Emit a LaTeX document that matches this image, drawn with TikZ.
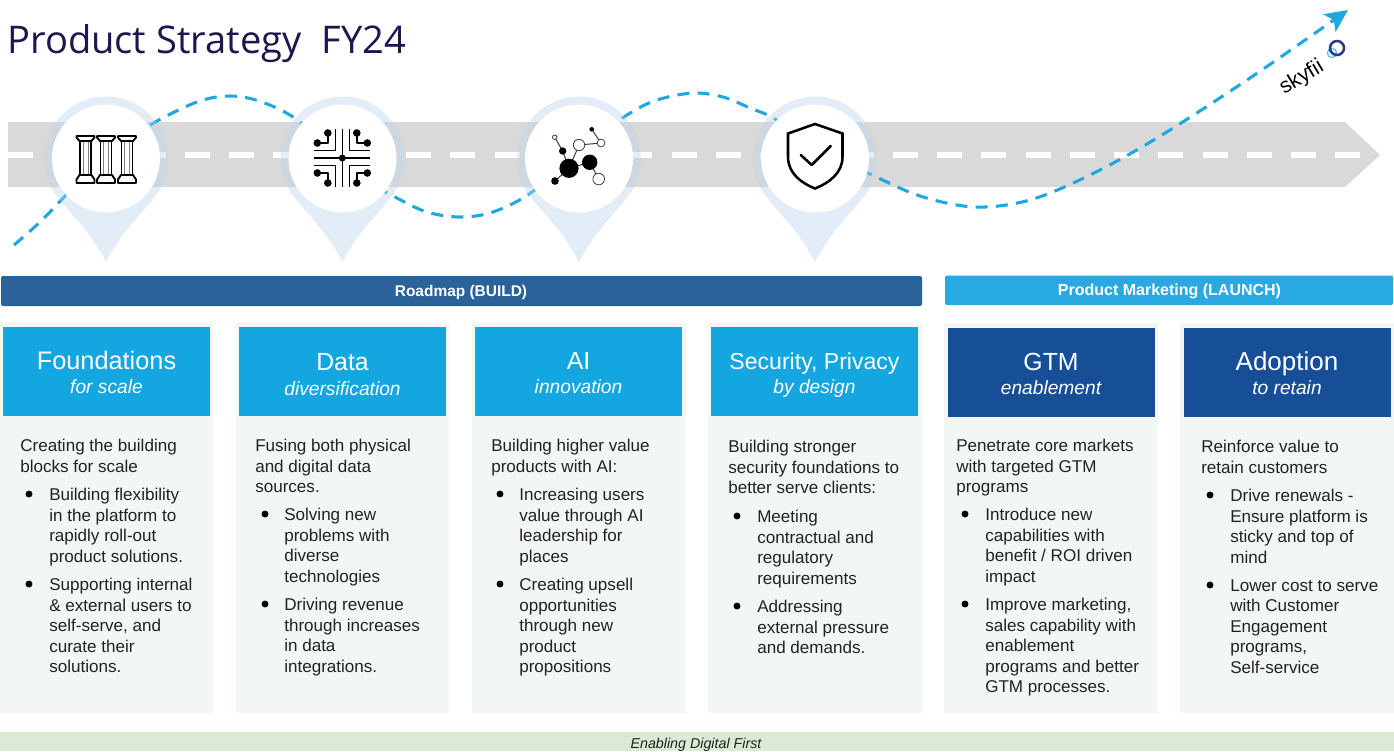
\documentclass[tikz,border=0pt]{standalone}
\usepackage{fontspec}
\usetikzlibrary{arrows.meta}
\setmainfont{Liberation Sans}
\newfontfamily\titlefont{Open Sans}
\definecolor{roadgray}{HTML}{D9D9D9}
\definecolor{pinblue}{HTML}{B9D4EB}
\definecolor{curveblue}{HTML}{1FA8E0}
\definecolor{navytitle}{HTML}{1B1750}
\definecolor{bannerdark}{HTML}{2A6299}
\definecolor{bannerlight}{HTML}{29A9E1}
\definecolor{cardbg}{HTML}{F3F7F4}
\definecolor{headlight}{HTML}{14A6E0}
\definecolor{headdark}{HTML}{164F98}
\definecolor{greenbar}{HTML}{DAEAD5}
\definecolor{bodyink}{HTML}{222222}
\definecolor{logoblue}{HTML}{2B3A8C}
\tikzset{
  cardbox/.style={fill=cardbg,draw=none},
  headbox/.style={draw=none,inner sep=0pt},
  bannerbox/.style={rounded corners=1.5pt,draw=none},
  bodytext/.style={anchor=north west,inner sep=0pt,align=left,text=bodyink,
    font=\fontsize{12.8pt}{15.4pt}\selectfont},
  bulletdot/.style={circle,fill=black,inner sep=0pt,minimum size=5.2pt},
  headtitle/.style={anchor=base,text=white,inner sep=0pt,font=\fontsize{#1}{20pt}\selectfont},
  headtitle/.default=18.6pt,
  headsub/.style={anchor=base,text=white,inner sep=0pt,font=\fontsize{14.4pt}{16pt}\itshape\selectfont},
  bannertext/.style={anchor=base,text=white,inner sep=0pt,font=\fontsize{#1}{14pt}\bfseries\selectfont},
  bannertext/.default=11.6pt,
  icon/.style={line width=1.4pt,black,line cap=round,line join=round},
}
\newcommand{\blk}[4]{\node[bodytext] (#1) at (#2,#3-6) {\rule{0pt}{8.25pt}#4};}
\newcommand{\bul}[3]{\node[bulletdot] (#1) at (#2,#3) {};}
\newcommand{\pinshape}[2]{%
  \begin{scope}[shift={(#2,158.5)}]
    \fill[pinblue,fill opacity=.40] (0,104) .. controls (12,78) and (35,55) .. (48.2,39)
      arc (39:-219:62) .. controls (-35,55) and (-12,78) .. (0,104) -- cycle;
    \node[circle,fill=white,draw=none,inner sep=0pt,minimum size=81pt] (#1) at (0,0) {};
  \end{scope}}
\newcommand{\pillar}[1]{%
  \begin{scope}[shift={(#1,0)}]
    \draw[icon] (-9,136) -- (9,136) -- (9,137.5) -- (6,141) -- (-6,141) -- (-9,137.5) -- cycle;
    \draw[icon] (-5.5,141) -- (-5.5,175) (5.5,141) -- (5.5,175);
    \draw[line width=.5pt,gray] (-2.5,142) -- (-2.5,174) (2.5,142) -- (2.5,174);
    \draw[icon] (-6,175) -- (6,175) -- (9,179.5) -- (9,183) -- (-9,183) -- (-9,179.5) -- cycle;
  \end{scope}}
\begin{document}
\begin{tikzpicture}[x=0.75pt,y=-0.75pt]
\useasboundingbox (0,0) rectangle (1394,751);
\fill[white] (0,0) rectangle (1394,751);

% title
\node[anchor=base west,inner sep=0pt,text=navytitle,font=\titlefont\fontsize{28.6pt}{32pt}\selectfont] (title) at (7,53) {Product Strategy\ \ FY24};

% road
\fill[roadgray] (8,122) -- (1345,122) -- (1380,155) -- (1345,187) -- (8,187) -- cycle;
\foreach \k in {0,...,30} {
  \fill[white] ({8+44.24*\k},152) rectangle ({33+44.24*\k},158);
}

% route
\draw[curveblue,line width=2.3pt,dash pattern=on 9pt off 6.2pt,-{Stealth[length=17pt,width=16pt,inset=4pt]}]
  plot[smooth,tension=.55] coordinates {(14,245) (40,222) (66,195) (100,158) (150,125) (197,102) (230,96)
   (262,102) (300,122) (345,168) (395,197) (427,212) (460,217) (493,212) (532,192) (578,150) (627,115)
   (657,100) (693,93) (723,97) (750,108) (775,119) (820,150) (868,173) (920,196) (975,207) (1030,200)
   (1090,175) (1157,138) (1250,78) (1348,10)};

% pins
\pinshape{pinA}{106}
\pinshape{pinB}{342.5}
\pinshape{pinC}{579}
\pinshape{pinD}{815}

% pillars icon
\pillar{85.5}
\pillar{106}
\pillar{127}

% circuit icon
\begin{scope}[shift={(342.3,158)}]
  \draw[icon,line width=1.2pt,line cap=butt] (-28,0) -- (28,0) (0,-29) -- (0,29);
  \fill (0,0) circle (3.5);
  \foreach \sx in {1,-1} \foreach \sy in {1,-1} {
    \draw[icon,line width=1.2pt,line cap=butt] ({\sx*7},{\sy*29}) -- ({\sx*7},{\sy*7.5}) -- ({\sx*28},{\sy*7.5});
    \draw[icon,line width=1.2pt,line cap=butt] ({\sx*14.5},{\sy*25}) -- ({\sx*14.5},{\sy*15}) -- ({\sx*25},{\sy*15});
    \fill ({\sx*14.5},{\sy*25}) circle (3.8);
    \fill ({\sx*25},{\sy*15}) circle (3.8);
  }
\end{scope}

% network icon
\draw[line width=.75pt,black!75] (569,168.3) -- (562.7,151) -- (554.7,137.3)
  (569,168.3) -- (579,145) -- (601,143) -- (591.7,129.3)
  (569,168.3) -- (589.7,162.3) -- (598.7,179)
  (569,168.3) -- (555,181);
\fill (569,168.3) circle (9.6);
\fill (589.7,162.3) circle (7.7);
\fill (562.7,151) circle (3.7);
\fill (555,181) circle (3.8);
\fill (591.7,129.3) circle (2.3);
\draw[line width=.6pt,black!75,fill=white] (579,145) circle (5.7);
\draw[line width=.6pt,black!75,fill=white] (601,143) circle (3.9);
\draw[line width=.6pt,black!75,fill=white] (598.7,179) circle (5.8);
\draw[line width=.6pt,black!75,fill=white] (554.7,137.3) circle (2.3);

% shield icon
\draw[icon,line width=1.9pt,line join=miter] (815,124) -- (842.5,133.5) -- (842.5,157)
  .. controls (842.5,173) and (829,183) .. (815,188.5)
  .. controls (801,183) and (788,173) .. (788,157) -- (788,133.5) -- cycle;
\draw[icon,line width=1.9pt] (800.7,155) -- (811.7,165) -- (830.7,146);

% logo
\node[rotate=31,inner sep=0pt,anchor=base west,text=black,font=\fontsize{16pt}{18pt}\selectfont] (logo) at (1284,95) {skyfii};
\draw[curveblue!70,line width=1pt] (1332,53) circle (4.6);
\draw[logoblue,line width=1.9pt] (1337,48) circle (7);

% banners
\fill[bannerdark,bannerbox] (1,276) rectangle (922,306);
\node[bannertext] (bannerA) at (461,296) {Roadmap (BUILD)};
\fill[bannerlight,bannerbox] (945,275.5) rectangle (1393,305);
\node[bannertext=12pt] (bannerB) at (1169.5,295.5) {Product Marketing (LAUNCH)};

% cards
\foreach \a/\b in {0/213,236/449,472/686,708/922,944/1158,1180/1394} {
  \fill[cardbox] (\a,323) rectangle (\b,713);
}
\foreach \a/\b in {3/210,239/446,475/682,711/918} {
  \fill[headlight] (\a,327) rectangle (\b,415.5);
}
\foreach \a/\b in {948/1155,1184/1391} {
  \fill[headdark] (\a,327.5) rectangle (\b,416.5);
}

% headers
\node[headtitle=19pt] (h1) at (106.5,369) {Foundations};
\node[headsub] (s1) at (106.5,393) {for scale};
\node[headtitle] (h2) at (342.5,370) {Data};
\node[headsub] (s2) at (342.5,395) {diversification};
\node[headtitle] (h3) at (578.5,369) {AI};
\node[headsub] (s3) at (578.5,393) {innovation};
\node[headtitle=17.3pt] (h4) at (814.5,369) {Security, Privacy};
\node[headsub] (s4) at (814.5,393) {by design};
\node[headtitle] (h5) at (1051,370) {GTM};
\node[headsub] (s5) at (1051,394) {enablement};
\node[headtitle=19.5pt] (h6) at (1287,370) {Adoption};
\node[headsub] (s6) at (1287,394) {to retain};

% card 1
\blk{c1i}{20}{445}{Creating the building\\blocks for scale}
\bul{c1p}{29}{494}
\blk{c1a}{49}{494}{Building flexibility\\in the platform to\\rapidly roll-out\\product solutions.}
\bul{c1q}{29}{584}
\blk{c1b}{49}{584}{Supporting internal\\\& external users to\\self-serve, and\\curate their\\solutions.}

% card 2
\blk{c2i}{255}{445}{Fusing both physical\\and digital data\\sources.}
\bul{c2p}{265}{514}
\blk{c2a}{284}{514}{Solving new\\problems with\\diverse\\technologies}
\bul{c2q}{265}{604}
\blk{c2b}{284}{604}{Driving revenue\\through increases\\in data\\integrations.}

% card 3
\blk{c3i}{491}{445}{Building higher value\\products with AI:}
\bul{c3p}{500}{494}
\blk{c3a}{519}{494}{Increasing users\\value through AI\\leadership for\\places}
\bul{c3q}{500}{584}
\blk{c3b}{519}{584}{Creating upsell\\opportunities\\through new\\product\\propositions}

% card 4
\blk{c4i}{728}{446}{Building stronger\\security foundations to\\better serve clients:}
\bul{c4p}{737}{516}
\blk{c4a}{757}{516}{Meeting\\contractual and\\regulatory\\requirements}
\bul{c4q}{737}{606}
\blk{c4b}{757}{606}{Addressing\\external pressure\\and demands.}

% card 5
\blk{c5i}{956}{445}{Penetrate core markets\\with targeted GTM\\programs}
\bul{c5p}{965}{514}
\blk{c5a}{985}{514}{Introduce new\\capabilities with\\benefit / ROI driven\\impact}
\bul{c5q}{965}{604}
\blk{c5b}{985}{604}{Improve marketing,\\sales capability with\\enablement\\programs and better\\GTM processes.}

% card 6
\blk{c6i}{1201}{446}{Reinforce value to\\retain customers}
\bul{c6p}{1210}{495}
\blk{c6a}{1230}{495}{Drive renewals -\\Ensure platform is\\sticky and top of\\mind}
\bul{c6q}{1210}{585}
\blk{c6b}{1230}{585}{Lower cost to serve\\with Customer\\Engagement\\programs,\\Self-service}

% footer bar
\fill[greenbar] (0,732) rectangle (1394,751);
\node[inner sep=0pt,text=bodyink,font=\fontsize{10.7pt}{12pt}\itshape\selectfont] (footer) at (696,744.5) {Enabling Digital First};
\end{tikzpicture}
\end{document}
